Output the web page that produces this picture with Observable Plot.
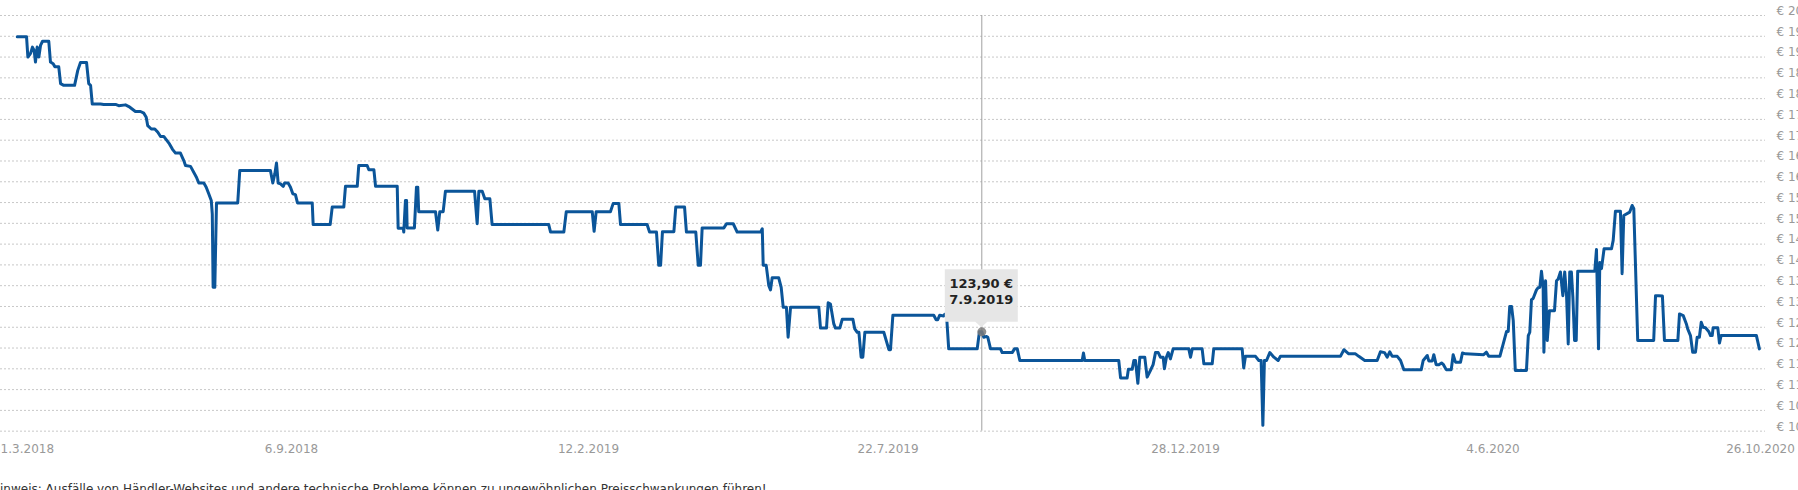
<!DOCTYPE html>
<html>
<head>
<meta charset="utf-8">
<script src="https://cdn.jsdelivr.net/npm/d3@7"></script>
<script src="https://cdn.jsdelivr.net/npm/@observablehq/plot@0.6"></script>
<style>
  html, body { margin: 0; padding: 0; background: #fff; overflow: hidden; width: 1798px; height: 490px; }
  #footer { font-family: "DejaVu Sans", Verdana, sans-serif; font-size: 12px; line-height: 14px; color: #333; margin: 10px 0 0 -9px; white-space: nowrap; }
</style>
</head>
<body>
<div id="chart"></div>
<div id="footer">Hinweis: Ausfälle von Händler-Websites und andere technische Probleme können zu ungewöhnlichen Preisschwankungen führen!</div>
<script>
// Days since 31.3.2018 (first axis label) for each price point
const days = [
  -3.7, 1.8, 2.6, 4.2, 5.3, 6.3, 7.1, 8.1, 9.1, 10.1, 11.3, 15.0, 16.0, 17.6, 18.6, 20.9, 22.0, 23.9, 30.3, 32.2,
  33.8, 37.4, 38.7, 39.8, 40.8, 45.7, 47.6, 54.6, 56.5, 60.5, 62.5, 66.4, 69.4, 71.4, 72.8, 73.7, 75.8, 77.9, 79.7, 81.3,
  83.2, 86.6, 88.4, 90.2, 93.1, 95.1, 96.1, 99.1, 102.6, 104.0, 107.0, 108.4, 109.9, 111.4, 112.0, 112.5, 113.5, 114.5, 127.1, 128.3,
  146.5, 147.9, 149.1, 150.1, 151.1, 152.5, 154.1, 154.9, 157.0, 158.4,
  159.7, 161.1, 162.2, 170.1, 170.6, 179.7, 180.8, 187.0, 187.9, 194.2, 195.0, 199.5, 200.4, 203.1, 204.0, 215.6, 216.1, 218.8, 219.1, 220.0,
  220.6, 220.9, 224.8, 225.9, 226.6, 227.1, 236.1, 237.3, 238.4, 240.2, 241.4, 257.0, 258.4, 259.3, 261.1, 262.5, 265.2, 266.4, 296.7, 297.7,
  304.8, 306.1,
  320.0, 321.0, 322.1, 329.7, 331.2, 334.2, 335.1, 349.3, 350.6, 354.3, 355.5, 356.5, 357.5, 363.6, 364.6, 369.3, 370.3, 375.3, 376.6, 377.8,
  378.7, 390.3, 391.7, 395.3, 397.4, 409.9, 410.8, 411.3, 412.9, 414.3, 415.2, 416.1, 419.6, 420.9, 422.0, 423.7, 424.6, 425.9, 441.0, 441.9,
  445.1, 446.0, 447.2, 449.0, 449.9, 452.2, 453.5, 459.2, 460.2, 461.5, 462.4, 463.6, 464.5, 465.6, 475.7,
  478.4, 479.2, 480.4, 500.9, 502.1, 502.9, 503.9, 505.9, 506.4, 507.3, 508.4, 522.7, 523.8,
  525.0, 526.1, 527.6, 528.3, 529.8, 535.3, 536.2, 541.7, 543.0, 544.5, 545.9, 580.2, 580.9, 581.6, 600.3, 601.3, 604.9, 605.6, 607.7, 608.6,
  609.5, 610.8, 611.9, 614.6, 615.9, 617.7, 619.2, 620.5, 622.0, 623.2, 624.7, 625.4, 626.5, 627.5, 628.7, 630.2,
  638.7, 639.6, 640.5, 645.6, 646.5, 650.8, 651.6, 666.3, 667.1, 668.0, 673.2, 674.9, 676.1, 677.0, 677.8, 678.9, 680.6, 682.7, 684.9, 686.1,
  717.1, 718.9, 721.4, 724.9, 726.6, 729.7, 736.1, 737.8, 739.9, 741.3, 742.6, 743.9, 746.5, 748.2, 749.9, 758.9, 759.9, 762.0, 762.8, 764.6,
  765.4, 766.6, 768.0, 769.4, 770.4, 771.8, 774.4, 775.4, 776.6, 779.2, 780.2, 781.8, 791.2, 792.6, 793.8,
  799.7, 801.5, 803.3, 804.2, 805.0, 806.0, 806.9, 808.0, 814.0, 815.0, 815.8, 816.7, 817.6, 819.4, 820.3, 821.2, 822.1, 823.0, 823.4, 824.3,
  825.2, 826.4, 829.1, 830.2, 831.1, 832.3, 833.6, 834.6, 835.6, 836.5, 837.3, 838.2, 839.0, 839.9, 840.8, 841.6, 850.8, 851.7, 852.8, 853.5,
  854.4, 855.8, 859.8, 860.7, 861.9, 864.6, 865.5, 866.4, 869.6, 870.9, 871.8, 873.9, 882.5, 883.5, 885.2, 887.2, 888.3, 895.5, 896.4, 898.4,
  900.1, 900.8, 902.3, 903.5, 905.0, 905.9, 907.1, 908.1, 909.1, 910.4, 912.1, 913.1, 914.0, 914.5, 917.0, 917.9, 918.8, 937.8, 939.4
];

// Price in EUR at each point
const prices = [
  194.9, 194.9, 190.0, 190.9, 192.4, 191.6, 188.8, 192.4, 190.0, 192.8, 193.8, 193.8, 188.8, 188.4, 187.7, 187.7, 183.6, 183.2, 183.2, 186.8,
  188.7, 188.7, 183.6, 183.2, 178.7, 178.7, 178.6, 178.6, 178.3, 178.5, 178.1, 176.9, 176.9, 176.5, 175.5, 173.5, 172.7, 172.7, 171.9, 170.9,
  170.9, 169.1, 167.8, 166.9, 166.9, 165.1, 163.9, 163.7, 161.1, 159.7, 159.7, 158.7, 157.1, 155.5, 152.3, 134.6, 134.6, 154.9, 154.9, 162.7,
  162.7, 159.7, 161.9, 164.5, 159.7, 159.5, 158.9, 159.7, 159.7, 158.7,
  157.1, 156.9, 154.9, 154.9, 149.7, 149.7, 153.9, 153.9, 158.9, 158.9, 163.9, 163.9, 162.9, 162.9, 158.9, 158.9, 148.8, 148.9, 147.9, 155.5,
  155.5, 148.9, 148.9, 158.7, 158.7, 152.8, 152.8, 148.4, 152.8, 152.8, 157.7, 157.7, 149.9, 157.7, 157.7, 155.9, 155.9, 149.7, 149.7, 147.9,
  147.9, 152.8,
  152.8, 148.1, 152.8, 152.8, 154.8, 154.8, 149.7, 149.7, 147.9, 147.9, 139.9, 139.9, 148.0, 148.0, 153.9, 153.9, 147.9, 147.9, 139.9, 139.9,
  148.9, 148.9, 149.9, 149.9, 147.9, 147.9, 148.7, 139.9, 139.9, 135.0, 134.0, 136.9, 136.9, 134.6, 129.8, 129.8, 122.6, 129.8, 129.8, 124.8,
  124.8, 130.9, 130.6, 125.8, 124.8, 124.8, 126.9, 126.9, 124.6, 123.8, 123.8, 117.8, 117.8, 123.8, 123.8,
  119.6, 119.6, 127.9, 127.9, 126.8, 126.8, 127.9, 127.7, 128.1, 127.9, 119.8, 119.8, 123.9,
  123.9, 122.6, 122.8, 122.6, 119.8, 119.8, 118.9, 118.9, 119.8, 119.8, 117.0, 117.0, 118.8, 117.0, 117.0, 112.8, 112.8, 114.9, 114.9, 117.0,
  117.0, 111.5, 117.8, 117.8, 113.0, 114.6, 116.0, 118.9, 118.9, 117.8, 117.8, 115.0, 117.8, 118.9, 117.4, 119.8,
  119.8, 117.8, 119.8, 119.8, 116.2, 116.2, 119.8, 119.8, 115.2, 118.0, 118.0, 117.0, 117.0, 101.4, 117.0, 117.0, 118.9, 117.8, 117.0, 118.0,
  118.0, 119.6, 118.6, 118.6, 118.0, 117.0, 117.0, 119.1, 118.9, 117.8, 119.1, 118.0, 118.0, 117.0, 114.8, 114.8, 117.0, 118.2, 116.9, 116.9,
  118.4, 116.0, 116.0, 116.4, 116.0, 114.8, 114.8, 118.4, 116.6, 116.6, 118.8, 118.6, 118.4, 119.0, 118.0,
  118.0, 121.0, 124.0, 124.0, 130.0, 130.0, 126.6, 114.6, 114.6, 123.0, 123.8, 131.6, 131.9, 134.0, 134.5, 134.6, 138.5, 134.6, 119.0, 136.2,
  121.8, 129.0, 129.0, 136.2, 136.6, 138.3, 132.6, 138.3, 132.6, 121.0, 138.3, 138.3, 132.2, 121.8, 121.8, 138.5, 138.5, 143.7, 119.8, 140.6,
  139.1, 143.9, 143.9, 145.9, 152.9, 152.9, 137.9, 151.9, 152.7, 154.3, 153.5, 121.8, 121.8, 132.6, 132.6, 132.5, 121.8, 121.8, 128.2, 127.8,
  125.8, 124.6, 123.0, 119.0, 119.0, 122.6, 122.6, 126.2, 125.0, 124.9, 124.0, 123.0, 123.0, 124.9, 124.9, 121.2, 123.0, 123.0, 119.8
];

// Axis tick labels
const xTickLabels = ["31.3.2018", "6.9.2018", "12.2.2019", "22.7.2019", "28.12.2019", "4.6.2020", "26.10.2020"];
const yTicks = [100, 105, 110, 115, 120, 125, 130, 135, 140, 145, 150, 155, 160, 165, 170, 175, 180, 185, 190, 195, 200];

// Highlighted point (tooltip)
const tipLabel = "7.9.2019";
const tipPrice = 123.90;

if (days.length !== prices.length) throw new Error("length mismatch " + days.length + " vs " + prices.length);

const parseDMY = s => { const [d, m, y] = s.split(".").map(Number); return new Date(Date.UTC(y, m - 1, d)); };
const fmtDMY = d => `${d.getUTCDate()}.${d.getUTCMonth() + 1}.${d.getUTCFullYear()}`;
const origin = parseDMY(xTickLabels[0]);
const data = days.map((d, i) => ({date: new Date(origin.getTime() + d * 864e5), price: prices[i]}));
const xTicks = xTickLabels.map(parseDMY);
const tipDate = parseDMY(tipLabel);

// Index-based axis in the original: piecewise time scale through the labelled dates
const xStops = [xTicks[0], xTicks[1], xTicks[2], xTicks[3], tipDate, xTicks[4], xTicks[5], xTicks[6]];
const xRange = [23, 291, 588, 887.6, 981.3, 1185, 1492.5, 1760];

const W = 1798, H = 472;
const chart = Plot.plot({
  width: W,
  height: H,
  marginLeft: 0,
  marginRight: 33,
  marginTop: 15,
  marginBottom: 41.33,
  style: {fontFamily: "'DejaVu Sans', Verdana, sans-serif", fontSize: "12px", background: "#fff"},
  x: {type: "utc", domain: xStops, range: xRange},
  y: {domain: [100, 200]},
  marks: [
    Plot.ruleY(yTicks, {stroke: "#c8c8c8", strokeDasharray: "2,2", strokeWidth: 1}),
    Plot.axisX(xTicks, {anchor: "bottom", tickSize: 0, tickPadding: 13, tickFormat: fmtDMY, color: "#999", fontSize: 12, label: null}),
    Plot.axisY(yTicks, {anchor: "right", tickSize: 0, tickPadding: 11, dy: -4.5, tickFormat: d => "€ " + d.toFixed(2).replace(".", ","), color: "#999", fontSize: 12, label: null}),
    Plot.ruleX([tipDate], {y1: 100, y2: 200, stroke: "#a0a0a0", strokeWidth: 1}),
    Plot.line(data, {x: "date", y: "price", stroke: "#0b5599", strokeWidth: 3, strokeLinejoin: "round"}),
    Plot.dot([{date: tipDate, price: tipPrice}], {x: "date", y: "price", r: 4.5, fill: "#7a7a7a", fillOpacity: 0.85, stroke: "none"})
  ]
});
document.getElementById("chart").appendChild(chart);

// Tooltip box anchored on the highlighted point via the plot's scales
const px = chart.scale("x").apply(tipDate);
const py = chart.scale("y").apply(tipPrice);
const svg = d3.select(chart);
const g = svg.append("g").attr("font-family", "'DejaVu Sans', Verdana, sans-serif");
const bl = px - 36.5, br = px + 36.5, bt = py - 62, bb = py - 9.5;
g.append("path")
  .attr("d", `M${bl},${bt}H${br}V${bb}H${px + 6}L${px},${py - 4}L${px - 6},${bb}H${bl}Z`)
  .attr("fill", "#e6e6e6");
g.append("text").attr("x", px).attr("y", py - 43).attr("text-anchor", "middle")
  .attr("font-size", 13).attr("font-weight", "bold").attr("fill", "#222")
  .text(tipPrice.toFixed(2).replace(".", ",") + " €");
g.append("text").attr("x", px).attr("y", py - 27).attr("text-anchor", "middle")
  .attr("font-size", 13).attr("font-weight", "bold").attr("fill", "#222")
  .text(tipLabel);
</script>
</body>
</html>
